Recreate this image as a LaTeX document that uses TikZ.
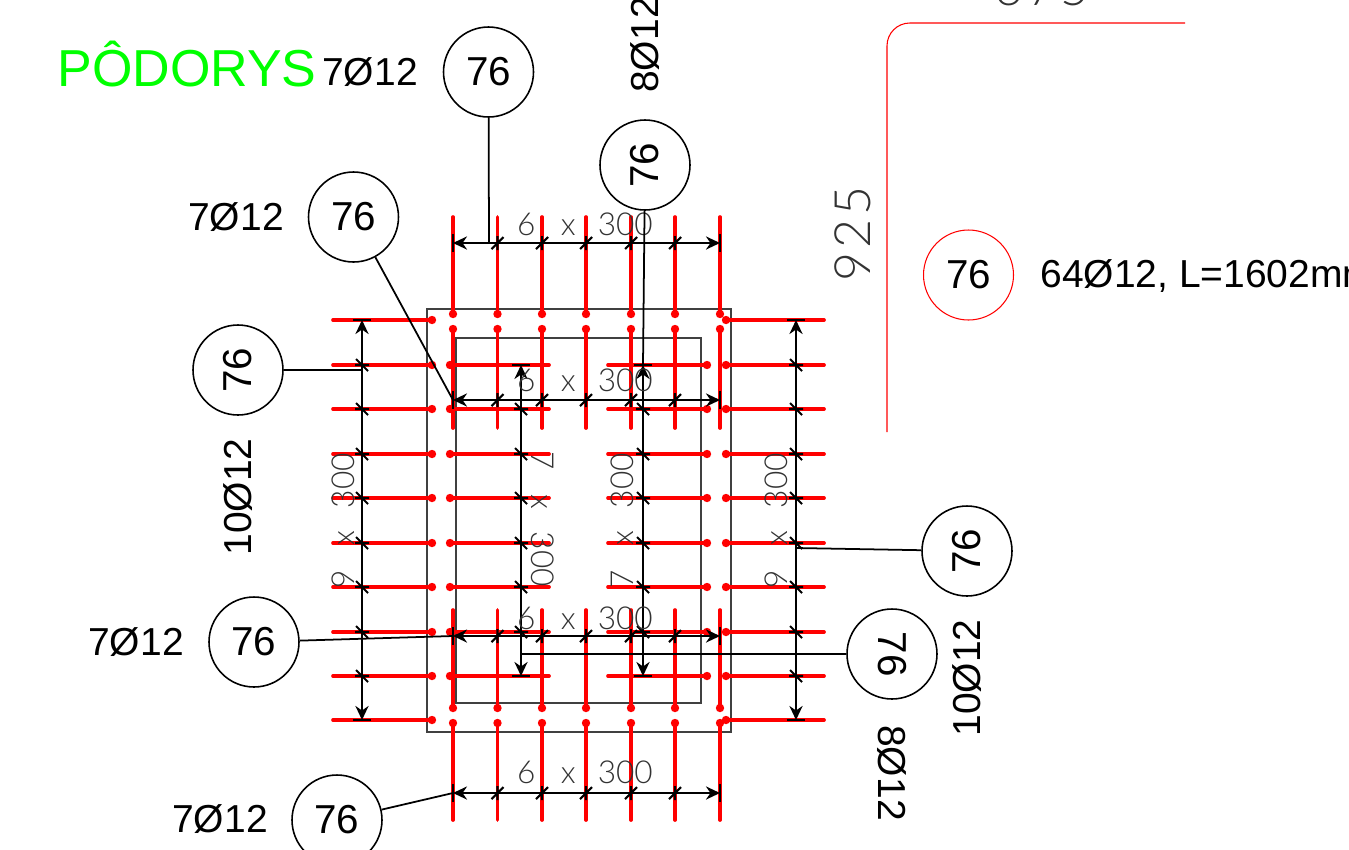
\documentclass[tikz,border=0pt]{standalone}
\usepackage{fontspec}
\setmainfont{Liberation Sans}
\newfontfamily\thinfont[UprightFont=* Light]{Lato}
\usetikzlibrary{arrows.meta}

\tikzset{
  tagcirc/.style={draw,circle,line width=.9pt,minimum size=1.8cm,inner sep=0pt,font=\fontsize{23}{23}\selectfont},
  tagtext/.style={inner sep=0pt,font=\fontsize{22.2}{22}\selectfont},
  dimtext/.style={inner sep=0pt,color=black!80,font=\thinfont\fontsize{18}{18}\selectfont},
  bigtext/.style={inner sep=0pt,color=black!80,font=\thinfont\fontsize{28.5}{30}\selectfont},
  barline/.style={color=red,line width=2.1pt,line cap=round},
  dimline/.style={line width=1.2pt,{Stealth[inset=2.6pt,length=8pt,width=7.5pt]}-{Stealth[inset=2.6pt,length=8pt,width=7.5pt]}},
  slabline/.style={line width=.7pt,color=black!75},
  leaderline/.style={line width=1pt}
}

% one bar: free end, then the end with the dot
\newcommand{\rebar}[2]{
  \draw[barline] (#1) -- (#2);
  \fill[red] (#2) circle(4.2);
}
% dimension along x, at height #1
\newcommand{\dimh}[1]{
  \draw[dimline] (453,#1) -- (720,#1);
  \draw[line width=1.2pt] (453,#1-9) -- (453,#1+9) (720,#1-9) -- (720,#1+9);
  \foreach \xb in {497.5,542,586,631,675}{
    \draw[line width=1.2pt] (\xb-6,#1+6) -- (\xb+6,#1-6) (\xb,#1-7) -- (\xb,#1+7);
  }
}
% dimension along y, at abscissa #1, from #2 to #3
\newcommand{\dimv}[4]{
  \draw[dimline] (#1,#2) -- (#1,#3);
  \draw[line width=1.2pt] (#1-9,#2) -- (#1+9,#2) (#1-9,#3) -- (#1+9,#3);
  \foreach \yb in {#4}{
    \draw[line width=1.2pt] (#1-6,\yb-6) -- (#1+6,\yb+6) (#1-7,\yb) -- (#1+7,\yb);
  }
}

\begin{document}
\begin{tikzpicture}[x=.02cm,y=-.02cm]
  \useasboundingbox (0,0) rectangle (1349,849);
  \clip (0,0) rectangle (1349,849);

  % slab outlines
  \draw[slabline] (427,309) rectangle (731,732);
  \draw[slabline] (456,338) rectangle (701,703);

  % bars
  \foreach \xb in {453,497.5,542,586,631,675,720}{
    \rebar{\xb,217}{\xb,314}
    \rebar{\xb,428}{\xb,329}
    \rebar{\xb,610}{\xb,708}
    \rebar{\xb,820}{\xb,723}
  }
  \foreach \yb in {320,365,409,454,498,543,587,632,676,720}{
    \rebar{333,\yb}{432,\yb}
    \rebar{824,\yb}{726,\yb}
  }
  \foreach \yb in {365,409,454,498,543,587,632,676}{
    \rebar{549,\yb}{450,\yb}
    \rebar{608,\yb}{707,\yb}
  }

  % dimensions
  \dimh{243}
  \dimh{400}
  \dimh{636}
  \dimh{793}
  \dimv{362}{320}{720}{365,409,454,498,543,587,632,676}
  \dimv{796}{320}{720}{365,409,454,498,543,587,632,676}
  \dimv{521}{365}{676}{409,454,498,543,587,632}
  \dimv{643}{365}{676}{409,454,498,543,587,632}

  \node[dimtext] (dimtopa) at (585,224) {6\hspace{.8em}x\hspace{.7em}300};
  \node[dimtext] (dimtopb) at (585,380) {6\hspace{.8em}x\hspace{.7em}300};
  \node[dimtext] (dimbota) at (585,618) {6\hspace{.8em}x\hspace{.7em}300};
  \node[dimtext] (dimbotb) at (585,772) {6\hspace{.8em}x\hspace{.7em}300};
  \node[dimtext,rotate=90] (dimleft) at (343,521) {9\hspace{.8em}x\hspace{.7em}300};
  \node[dimtext,rotate=90] (dimright) at (776,521) {9\hspace{.8em}x\hspace{.7em}300};
  \node[dimtext,rotate=-90] (diminl) at (543,519) {7\hspace{.8em}x\hspace{.7em}300};
  \node[dimtext,rotate=90] (diminr) at (622,521) {7\hspace{.8em}x\hspace{.7em}300};

  % tags
  \node[tagcirc] (tagtop) at (488.5,72) {76};
  \node[tagcirc,rotate=90] (tagup) at (645,165) {76};
  \node[tagcirc] (tagdiag) at (353.5,217) {76};
  \node[tagcirc,rotate=90] (tagleft) at (238,370) {76};
  \node[tagcirc,rotate=90] (tagright) at (967,551) {76};
  \node[tagcirc,rotate=-90] (tagflip) at (892,654) {76};
  \node[tagcirc] (taglow) at (254,642) {76};
  \node[tagcirc] (tagbot) at (337,820) {76};
  \node[tagcirc,color=red,text=black,line width=.6pt] (tagred) at (968.5,275) {76};

  % leaders
  \coordinate (endtop) at (489,243);
  \coordinate (endup) at (643,365);
  \coordinate (enddiag) at (453,400);
  \coordinate (endleft) at (362,370);
  \coordinate (endright) at (796,548);
  \coordinate (endflip) at (521,654);
  \coordinate (endlow) at (453,636);
  \coordinate (endbot) at (453,793);
  \draw[leaderline] (tagtop) -- (endtop);
  \draw[leaderline] (tagup) -- (endup);
  \draw[leaderline] (tagdiag) -- (enddiag);
  \draw[leaderline] (tagleft) -- (endleft);
  \draw[leaderline] (tagright) -- (endright);
  \draw[leaderline] (tagflip) -- (endflip);
  \draw[leaderline] (taglow) -- (endlow);
  \draw[leaderline] (tagbot) -- (endbot);

  % texts
  \node[inner sep=0pt,color=green,anchor=west,font=\fontsize{29.6}{29}\selectfont] (title) at (57,64) {PÔDORYS};
  \node[tagtext] (qtop) at (370,72) {7Ø12};
  \node[tagtext] (qdiag) at (236,217) {7Ø12};
  \node[tagtext] (qlow) at (136,642) {7Ø12};
  \node[tagtext] (qbot) at (220,819) {7Ø12};
  \node[tagtext,rotate=90] (qup) at (645,45) {8Ø12};
  \node[tagtext,rotate=-90] (qflip) at (892,773) {8Ø12};
  \node[tagtext,rotate=90] (qleft) at (238,497) {10Ø12};
  \node[tagtext,rotate=90] (qright) at (967,678) {10Ø12};
  \node[tagtext,anchor=west] (qred) at (1040,276) {64Ø12, L=1602mm};

  % bent bar and its sizes
  \draw[color=red,line width=.6pt,rounded corners=13] (1185,23) -- (887,23) -- (887,432);
  \node[bigtext,rotate=90] (sizea) at (853,234) {9\hspace{.08em}2\hspace{.08em}5};
  \node[bigtext] (sizeb) at (1042,-12) {6\hspace{.08em}7\hspace{.08em}5};
\end{tikzpicture}
\end{document}
